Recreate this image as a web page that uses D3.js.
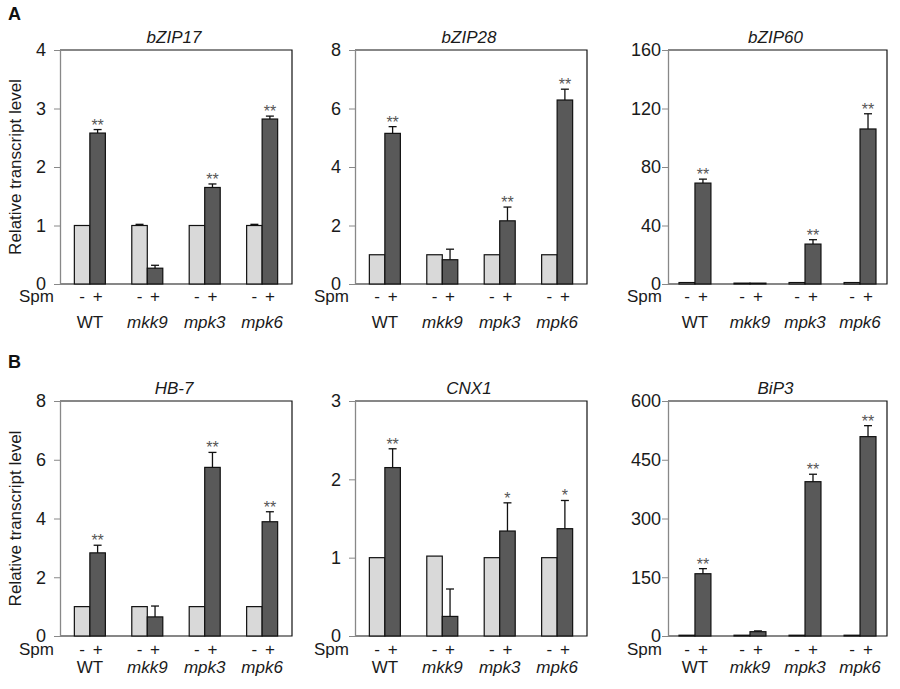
<!DOCTYPE html>
<html>
<head>
<meta charset="utf-8">
<script src="https://cdn.jsdelivr.net/npm/d3@7"></script>
<style>
  html, body { margin: 0; padding: 0; background: #fff; }
  svg { display: block; font-family: "Liberation Sans", Arial, sans-serif; }
</style>
</head>
<body>
<svg id="chart" width="900" height="689"></svg>
<script>
// ---------- data ----------
const genes = ["bZIP17", "bZIP28", "bZIP60", "HB-7", "CNX1", "BiP3"];
const groups = ["WT", "mkk9", "mpk3", "mpk6"];
const treatments = ["-", "+"];
const yMax = [4, 8, 160, 8, 3, 600];
const yStep = [1, 2, 40, 2, 1, 150];
const mockValues = [
  [1, 1, 1, 1],
  [1, 1, 1, 1],
  [1, 0.6, 1, 1],
  [1, 1, 1, 1],
  [1, 1.02, 1, 1],
  [2, 2, 2, 2]
];
const mockErrors = [
  [0, 0.02, 0, 0.02],
  [0, 0, 0, 0],
  [0, 0, 0, 0],
  [0, 0, 0, 0],
  [0, 0, 0, 0],
  [0, 0, 0, 0]
];
const spmValues = [
  [2.58, 0.27, 1.65, 2.82],
  [5.15, 0.83, 2.16, 6.29],
  [69, 0.6, 27.3, 106],
  [2.83, 0.65, 5.74, 3.89],
  [2.15, 0.25, 1.34, 1.37],
  [159, 11, 394, 509]
];
const spmErrors = [
  [0.06, 0.05, 0.06, 0.05],
  [0.23, 0.36, 0.47, 0.37],
  [2.7, 0, 3, 10.4],
  [0.26, 0.37, 0.51, 0.34],
  [0.24, 0.35, 0.36, 0.36],
  [13, 2, 19, 28]
];
const signif = [
  ["**", "", "**", "**"],
  ["**", "", "**", "**"],
  ["**", "", "**", "**"],
  ["**", "", "**", "**"],
  ["**", "", "*", "*"],
  ["**", "", "**", "**"]
];
const panelLetters = ["A", "B"];

// ---------- layout ----------
const cols = [
  { x0: 60, x1: 292, pi: 0.46, po: 0.25, tickPad: 8 },
  { x0: 355, x1: 587, pi: 0.46, po: 0.25, tickPad: 8 },
  { x0: 668, x1: 887, pi: 0.42, po: 0.2, tickPad: 1 }
];
const rows = [
  { y0: 50, y1: 284, spmDy: 18, groupLabelDy: 44, letterY: 20 },
  { y0: 401, y1: 636, spmDy: 18.5, groupLabelDy: 37, letterY: 368 }
];
const lightFill = "#d9d9d9", darkFill = "#595959";
const textColor = "#1a1a1a";

const svg = d3.select("#chart");

rows.forEach((r, ri) => {
  svg.append("text").attr("x", 8).attr("y", r.letterY)
    .attr("font-size", 18).attr("font-weight", "bold").attr("fill", "#111")
    .text(panelLetters[ri]);
});

genes.forEach((gene, gi) => {
  const c = cols[gi % 3], r = rows[Math.floor(gi / 3)];
  const g = svg.append("g");

  const x = d3.scaleBand().domain(groups).range([c.x0, c.x1])
    .paddingInner(c.pi).paddingOuter(c.po);
  const xi = d3.scaleBand().domain(treatments).range([0, x.bandwidth()]);
  const y = d3.scaleLinear().domain([0, yMax[gi]]).range([r.y1, r.y0]);

  // frame (top, right, bottom)
  g.append("path")
    .attr("d", `M${c.x0},${r.y0}H${c.x1}V${r.y1}H${c.x0}`)
    .attr("fill", "none").attr("stroke", "#111").attr("stroke-width", 1.2);

  // y axis
  const ticks = d3.range(0, yMax[gi] + yStep[gi] / 2, yStep[gi]);
  const ax = g.append("g").attr("transform", `translate(${c.x0},0)`)
    .call(d3.axisLeft(y).tickValues(ticks).tickFormat(d3.format("d"))
      .tickSize(6).tickSizeOuter(0).tickPadding(c.tickPad));
  ax.select(".domain").attr("stroke", "#888").attr("stroke-width", 1.3);
  ax.selectAll(".tick line").attr("stroke", "#888");
  ax.selectAll(".tick text").attr("font-size", 18).attr("fill", textColor)
    .attr("font-family", "'Liberation Sans', Arial, sans-serif");

  // title
  g.append("text").attr("x", (c.x0 + c.x1) / 2 - 2).attr("y", r.y0 - 7)
    .attr("text-anchor", "middle").attr("font-size", 17).attr("font-style", "italic")
    .attr("fill", textColor).text(gene);

  // bars
  const rowsData = groups.map((grp, k) => ({
    grp,
    bars: [
      { t: "-", v: mockValues[gi][k], e: mockErrors[gi][k], fill: lightFill, s: "" },
      { t: "+", v: spmValues[gi][k], e: spmErrors[gi][k], fill: darkFill, s: signif[gi][k] }
    ]
  }));

  rowsData.forEach(d => {
    const gx = x(d.grp);
    d.bars.forEach(b => {
      const bx = gx + xi(b.t), bw = xi.bandwidth();
      const cx = bx + bw / 2;
      g.append("rect").attr("x", bx).attr("y", y(b.v))
        .attr("width", bw).attr("height", Math.max(0, y(0) - y(b.v)))
        .attr("fill", b.fill).attr("stroke", "#111").attr("stroke-width", 1.2);
      if (b.e > 0) {
        const top = y(b.v + b.e);
        g.append("line").attr("x1", cx).attr("x2", cx).attr("y1", y(b.v)).attr("y2", top)
          .attr("stroke", "#111").attr("stroke-width", 1.3);
        g.append("line").attr("x1", cx - 4).attr("x2", cx + 4).attr("y1", top).attr("y2", top)
          .attr("stroke", "#111").attr("stroke-width", 1.3);
      }
      if (b.s) {
        g.append("text").attr("x", cx).attr("y", y(b.v + b.e) + 1)
          .attr("text-anchor", "middle").attr("font-size", 16).attr("fill", "#555")
          .text(b.s);
      }
      // treatment label
      g.append("text").attr("x", cx).attr("y", r.y1 + r.spmDy)
        .attr("text-anchor", "middle").attr("font-size", 17).attr("fill", textColor)
        .text(b.t);
    });
    // group label
    g.append("text").attr("x", gx + x.bandwidth() / 2).attr("y", r.y1 + r.groupLabelDy)
      .attr("text-anchor", "middle").attr("font-size", 17).attr("fill", textColor)
      .attr("font-style", d.grp === "WT" ? "normal" : "italic")
      .text(d.grp);
  });

  // Spm label
  g.append("text").attr("x", c.x0 - 6).attr("y", r.y1 + r.spmDy)
    .attr("text-anchor", "end").attr("font-size", 17).attr("fill", textColor)
    .text("Spm");

  // y-axis title (first column only)
  if (gi % 3 === 0) {
    g.append("text")
      .attr("transform", `translate(21,${(r.y0 + r.y1) / 2}) rotate(-90)`)
      .attr("text-anchor", "middle").attr("font-size", 17).attr("fill", textColor)
      .text("Relative transcript level");
  }
});
</script>
</body>
</html>
